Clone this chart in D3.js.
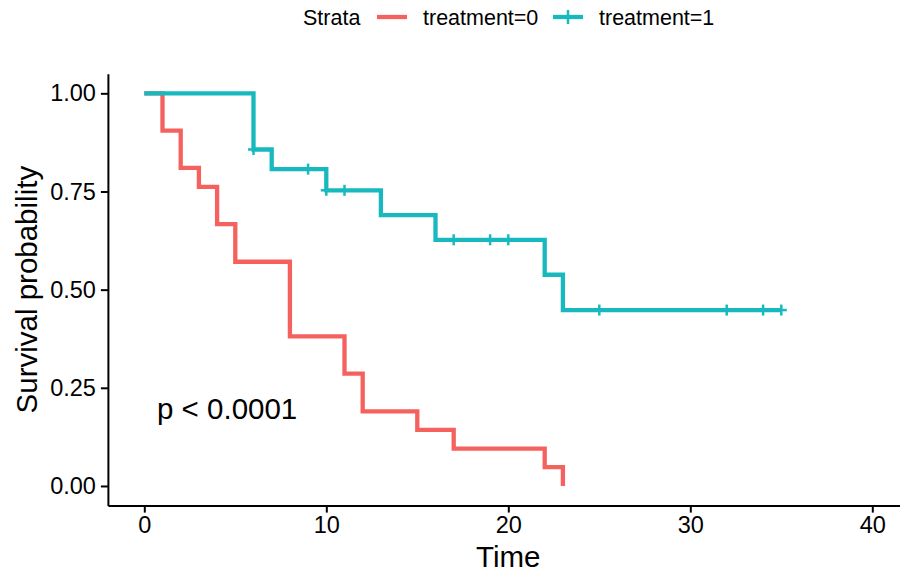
<!DOCTYPE html>
<html>
<head>
<meta charset="utf-8">
<script src="https://cdn.jsdelivr.net/npm/d3@7"></script>
<style>
  body { margin: 0; background: #fff; }
  text { font-family: "Liberation Sans", Arial, Helvetica, sans-serif; fill: #000; }
</style>
</head>
<body>
<div id="chart"></div>
<script>
// survival curves (Kaplan-Meier steps)
var groups = ["treatment=0", "treatment=1"];
var colors = ["#F5625E", "#18B9BE"];

var times0 = [0, 1, 2, 3, 4, 5, 8, 11, 12, 15, 17, 22, 23];
var surv0  = [1, 0.905, 0.810, 0.762, 0.667, 0.571, 0.381, 0.286, 0.190, 0.143, 0.095, 0.048, 0];

var times1 = [0, 6, 7, 10, 13, 16, 22, 23, 35];
var surv1  = [1, 0.857, 0.807, 0.753, 0.690, 0.627, 0.538, 0.448, 0.448];

// censored times (plus marks), treatment=1 only
var cens1 = [6, 9, 10, 11, 17, 19, 20, 25, 32, 34, 35];

var xTicks = [0, 10, 20, 30, 40];
var yTicks = [0, 0.25, 0.5, 0.75, 1];

var width = 900, height = 573;

var svg = d3.select("#chart")
    .append("svg")
    .attr("width", width)
    .attr("height", height);

var x = d3.scaleLinear()
    .domain([-2, 42])
    .range([107.9, 908.7]);

var y = d3.scaleLinear()
    .domain([-0.05, 1.05])
    .range([505.6, 73.7]);

// axes
var xAxis = svg.append("g")
    .attr("transform", "translate(0," + 505.6 + ")")
    .call(d3.axisBottom(x).tickValues(xTicks).tickSize(7).tickSizeOuter(0).tickPadding(4));
var yAxis = svg.append("g")
    .attr("transform", "translate(" + 107.9 + ",0)")
    .call(d3.axisLeft(y).tickValues(yTicks).tickSize(7).tickSizeOuter(0).tickPadding(5)
        .tickFormat(d3.format(".2f")));

[xAxis, yAxis].forEach(function(a){
  a.select(".domain").attr("stroke", "#000").attr("stroke-width", 2);
  a.selectAll(".tick line").attr("stroke", "#000").attr("stroke-width", 2);
  a.selectAll(".tick text")
      .style("font-size", "23.5px")
      .style("font-family", "'Liberation Sans', Arial, sans-serif")
      .attr("fill", "#000");
});

// axis titles
svg.append("text")
    .attr("x", x(20))
    .attr("y", 567)
    .attr("text-anchor", "middle")
    .style("font-size", "29.5px")
    .text("Time");

svg.append("text")
    .attr("transform", "translate(37," + y(0.5) + ") rotate(-90)")
    .attr("text-anchor", "middle")
    .style("font-size", "29.5px")
    .text("Survival probability");

// curves
var line = d3.line()
    .x(function(d){ return x(d[0]); })
    .y(function(d){ return y(d[1]); })
    .curve(d3.curveStepAfter);

var series = [d3.zip(times0, surv0), d3.zip(times1, surv1)];

series.forEach(function(s, i){
  svg.append("path")
      .datum(s)
      .attr("d", line)
      .attr("fill", "none")
      .attr("stroke", colors[i])
      .attr("stroke-width", 4.3)
      .attr("stroke-linejoin", "miter");
});

// survival at time t for treatment=1
function survAt(t) {
  var s = surv1[0];
  times1.forEach(function(tt, j){ if (tt <= t) s = surv1[j]; });
  return s;
}

var cross = 5.5;
cens1.forEach(function(t){
  var cx = x(t), cy = y(survAt(t));
  svg.append("line")
      .attr("x1", cx).attr("x2", cx)
      .attr("y1", cy - cross).attr("y2", cy + cross)
      .attr("stroke", colors[1]).attr("stroke-width", 2.5);
  svg.append("line")
      .attr("x1", cx - cross).attr("x2", cx + cross)
      .attr("y1", cy).attr("y2", cy)
      .attr("stroke", colors[1]).attr("stroke-width", 2.5);
});

// p value
svg.append("text")
    .attr("x", 157)
    .attr("y", 419)
    .style("font-size", "29.5px")
    .text("p < 0.0001");

// legend
var legend = svg.append("g");
legend.append("text")
    .attr("x", 303)
    .attr("y", 25)
    .style("font-size", "21.5px")
    .text("Strata");

var keyX = [377, 553];
groups.forEach(function(g, i){
  legend.append("line")
      .attr("x1", keyX[i]).attr("x2", keyX[i] + 30)
      .attr("y1", 17).attr("y2", 17)
      .attr("stroke", colors[i]).attr("stroke-width", 4.3);
  if (i == 1) {
    legend.append("line")
        .attr("x1", keyX[i] + 15).attr("x2", keyX[i] + 15)
        .attr("y1", 10).attr("y2", 24)
        .attr("stroke", colors[i]).attr("stroke-width", 2.5);
  }
  legend.append("text")
      .attr("x", keyX[i] + 46)
      .attr("y", 25)
      .style("font-size", "21.5px")
      .text(g);
});
</script>
</body>
</html>
